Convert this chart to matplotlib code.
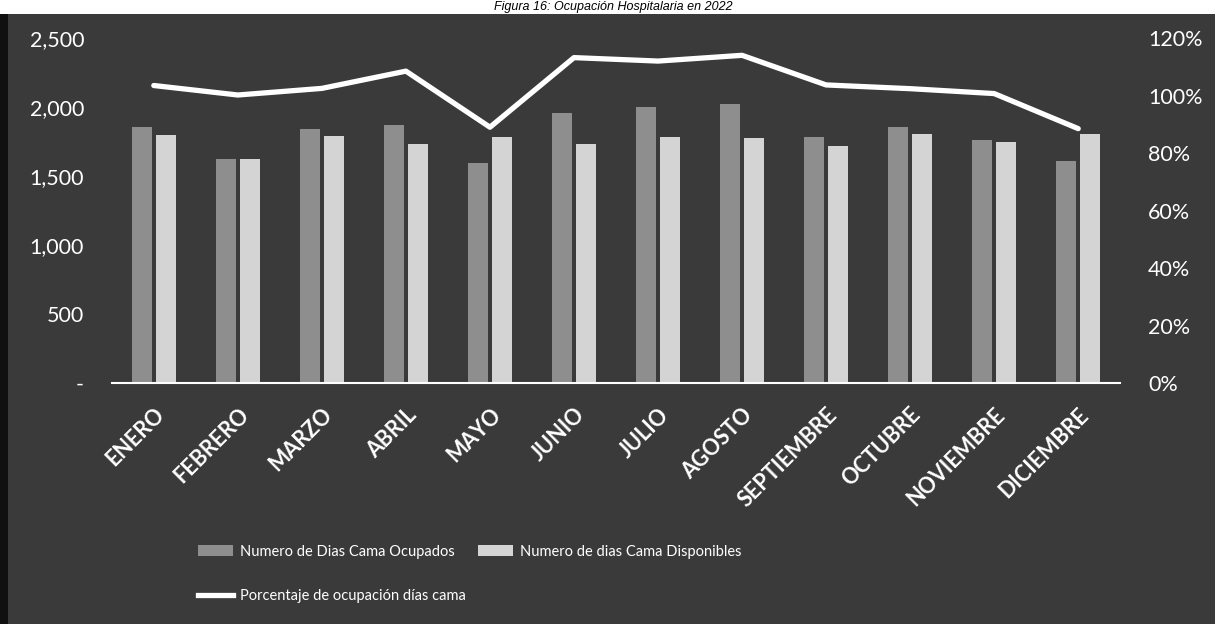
import matplotlib.pyplot as plt
import numpy as np
from matplotlib.patches import Rectangle, Patch
from matplotlib.lines import Line2D
from matplotlib.ticker import FuncFormatter

meses = ['ENERO', 'FEBRERO', 'MARZO', 'ABRIL', 'MAYO', 'JUNIO', 'JULIO',
         'AGOSTO', 'SEPTIEMBRE', 'OCTUBRE', 'NOVIEMBRE', 'DICIEMBRE']
ocupados = [1857, 1623, 1841, 1870, 1594, 1954, 1998, 2022, 1785, 1853, 1761, 1609]
disponibles = [1797, 1623, 1790, 1732, 1785, 1732, 1785, 1778, 1720, 1804, 1744, 1804]
porcentaje = [103.5, 100.2, 102.5, 108.5, 89.0, 113.2, 112.0, 114.0, 103.7, 102.4, 100.7, 88.5]

fondo = '#3a3a3a'
gris_oscuro = '#8e8e8e'
gris_claro = '#d4d4d4'

plt.rcParams['font.family'] = ['Lato', 'DejaVu Sans']

fig = plt.figure(figsize=(12.15, 6.24), dpi=100, facecolor='white')
top_strip = 14 / 624
fig.patches.append(Rectangle((0, 0), 1, 1 - top_strip, transform=fig.transFigure,
                             facecolor=fondo, edgecolor='none', zorder=-10))
fig.patches.append(Rectangle((0, 0), 8 / 1215, 1 - top_strip, transform=fig.transFigure,
                             facecolor='#101010', edgecolor='none', zorder=-9))

# titulo (en el original queda recortado por arriba)
fig.text(0.505, 1 - 1 / 624, 'Figura 16: Ocupación Hospitalaria en 2022',
         family='Liberation Sans', style='italic', fontsize=9,
         ha='center', va='top', color='black')

ax = fig.add_axes([0.092, 0.386, 0.830, 0.553])
ax.set_facecolor('none')
x = np.arange(len(meses))
w = 0.24
ax.bar(x - 0.145, ocupados, w, color=gris_oscuro, zorder=2)
ax.bar(x + 0.145, disponibles, w, color=gris_claro, zorder=2)
ax.set_xlim(-0.5, len(meses) - 0.5)
ax.set_ylim(0, 2500)
ax.set_yticks(range(0, 2501, 500))
ax.yaxis.set_major_formatter(FuncFormatter(lambda v, p: '-' if v == 0 else f'{int(v):,}'))
ax.set_xticks(x)
ax.set_xticklabels(meses, rotation=45, ha='right', va='top', rotation_mode='anchor',
                   fontsize=15.5, fontweight='bold')
ax.tick_params(axis='x', length=0, pad=15, colors='white')
ax.tick_params(axis='y', length=0, pad=20, colors='white', labelsize=15.5)
for s in ['top', 'right', 'left']:
    ax.spines[s].set_visible(False)
ax.spines['bottom'].set_color('white')
ax.spines['bottom'].set_linewidth(1.5)

ax2 = ax.twinx()
ax2.plot(x, porcentaje, color='white', lw=3.8, solid_capstyle='round', zorder=3)
ax2.set_ylim(0, 120)
ax2.set_yticks(range(0, 121, 20))
ax2.yaxis.set_major_formatter(FuncFormatter(lambda v, p: f'{int(v)}%'))
ax2.tick_params(axis='y', length=0, pad=20, colors='white', labelsize=15.5)
for s in ax2.spines.values():
    s.set_visible(False)

handles = [Patch(facecolor=gris_oscuro), Line2D([0], [0], color='white', lw=3.8),
           Patch(facecolor=gris_claro)]
labels = ['Numero de Dias Cama Ocupados', 'Porcentaje de ocupación días cama',
          'Numero de dias Cama Disponibles']
leg = fig.legend(handles, labels, ncol=2, loc='upper left', bbox_to_anchor=(0.152, 0.148),
                 frameon=False, fontsize=10.5, handlelength=2.4, handleheight=0.75,
                 labelspacing=2.1, columnspacing=0.8, handletextpad=0.5)
for t in leg.get_texts():
    t.set_color('white')

fig.savefig('out.png', dpi=100, facecolor=fig.get_facecolor())
